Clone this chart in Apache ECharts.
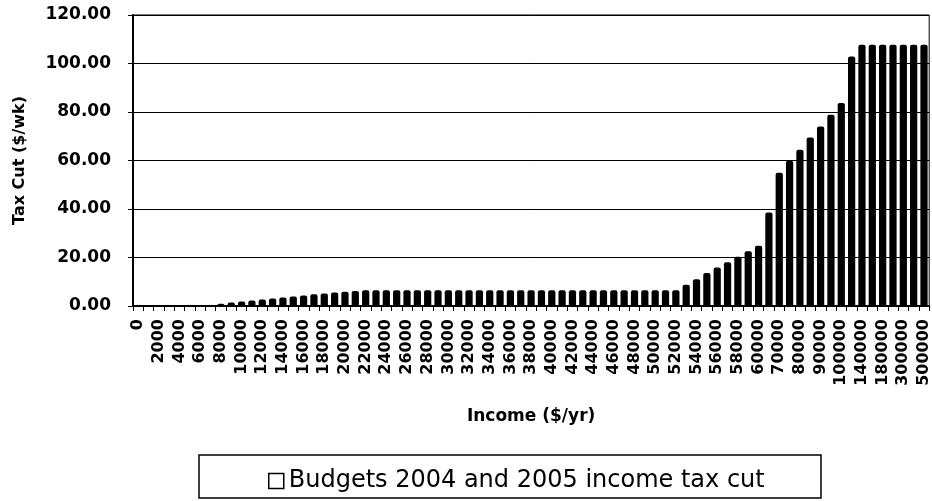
<!DOCTYPE html>
<html>
<head>
<meta charset="utf-8">
<script src="https://cdn.jsdelivr.net/npm/echarts@6/dist/echarts.min.js"></script>
<style>html,body{margin:0;padding:0;background:#fff;}#chart{width:932px;height:501px;}</style>
</head>
<body>
<div id="chart"></div>
<script>
const categories = [
  '0','1000','2000','3000','4000','5000','6000','7000','8000','9000',
  '10000','11000','12000','13000','14000','15000','16000','17000','18000','19000',
  '20000','21000','22000','23000','24000','25000','26000','27000','28000','29000',
  '30000','31000','32000','33000','34000','35000','36000','37000','38000','39000',
  '40000','41000','42000','43000','44000','45000','46000','47000','48000','49000',
  '50000','51000','52000','53000','54000','55000','56000','57000','58000','59000',
  '60000','65000','70000','75000','80000','85000','90000','95000','100000','120000',
  '140000','160000','180000','250000','300000','400000','500000'
];
const taxCut = [
  0,0,0,0,0,0,0,0.2,0.9,1.4,
  1.9,2.3,2.7,3.1,3.5,3.9,4.3,4.8,5.2,5.6,
  5.9,6.2,6.5,6.5,6.5,6.5,6.5,6.5,6.5,6.5,
  6.5,6.5,6.5,6.5,6.5,6.5,6.5,6.5,6.5,6.5,
  6.5,6.5,6.5,6.5,6.5,6.5,6.5,6.5,6.5,6.5,
  6.5,6.5,6.5,8.8,11.0,13.6,15.9,18.0,20.3,22.6,
  24.8,38.6,55.0,59.9,64.4,69.5,74.0,78.9,83.7,102.9,
  107.7,107.7,107.7,107.7,107.7,107.7,107.7
];
const seriesName = 'Budgets 2004 and 2005 income tax cut';
const yTicks = [0, 20, 40, 60, 80, 100, 120];

const FONT = 'DejaVu Sans';
const chart = echarts.init(document.getElementById('chart'));
chart.setOption({
  animation: false,
  backgroundColor: '#fff',
  grid: { left: 133, right: 2, top: 15, bottom: 195, show: true, borderColor: '#000', borderWidth: 1 },
  xAxis: {
    type: 'category',
    data: categories,
    name: 'Income ($/yr)',
    nameLocation: 'middle',
    nameGap: 102,
    nameTextStyle: { fontFamily: FONT, fontWeight: 'bold', fontSize: 17, color: '#000' },
    axisLine: { lineStyle: { color: '#000', width: 2 } },
    axisTick: { show: true, interval: 0, length: 5, lineStyle: { color: '#000', width: 1 } },
    axisLabel: { interval: 1, rotate: 90, margin: 13, fontFamily: FONT, fontWeight: 'bold', fontSize: 16, color: '#000' },
    splitLine: { show: false }
  },
  yAxis: {
    type: 'value',
    min: yTicks[0],
    max: yTicks[yTicks.length - 1],
    interval: 20,
    name: 'Tax Cut ($/wk)',
    nameLocation: 'middle',
    nameGap: 105,
    nameTextStyle: { fontFamily: FONT, fontWeight: 'bold', fontSize: 16, color: '#000' },
    axisLine: { show: true, lineStyle: { color: '#000', width: 2 } },
    axisTick: { show: true, length: 5, lineStyle: { color: '#000' } },
    axisLabel: { margin: 22, fontFamily: FONT, fontWeight: 'bold', fontSize: 17, color: '#000', formatter: v => v.toFixed(2) },
    splitLine: { show: true, lineStyle: { color: '#000', width: 1 } }
  },
  legend: {
    left: 263,
    top: 464,
    itemWidth: 15,
    itemHeight: 15,
    itemGap: 5,
    textStyle: { fontFamily: FONT, fontSize: 24, color: '#000' },
    data: [{ name: seriesName, icon: 'rect', itemStyle: { color: '#fff', borderColor: '#000', borderWidth: 1.5 } }]
  },
  graphic: [{
    type: 'rect',
    shape: { x: 199, y: 455, width: 622, height: 43 },
    style: { fill: 'none', stroke: '#000', lineWidth: 1.5 },
    silent: true
  }],
  series: [{
    type: 'bar',
    name: seriesName,
    data: taxCut,
    barCategoryGap: '30%',
    itemStyle: { color: '#000', borderRadius: [2, 2, 0, 0] }
  }]
});
</script>
</body>
</html>
